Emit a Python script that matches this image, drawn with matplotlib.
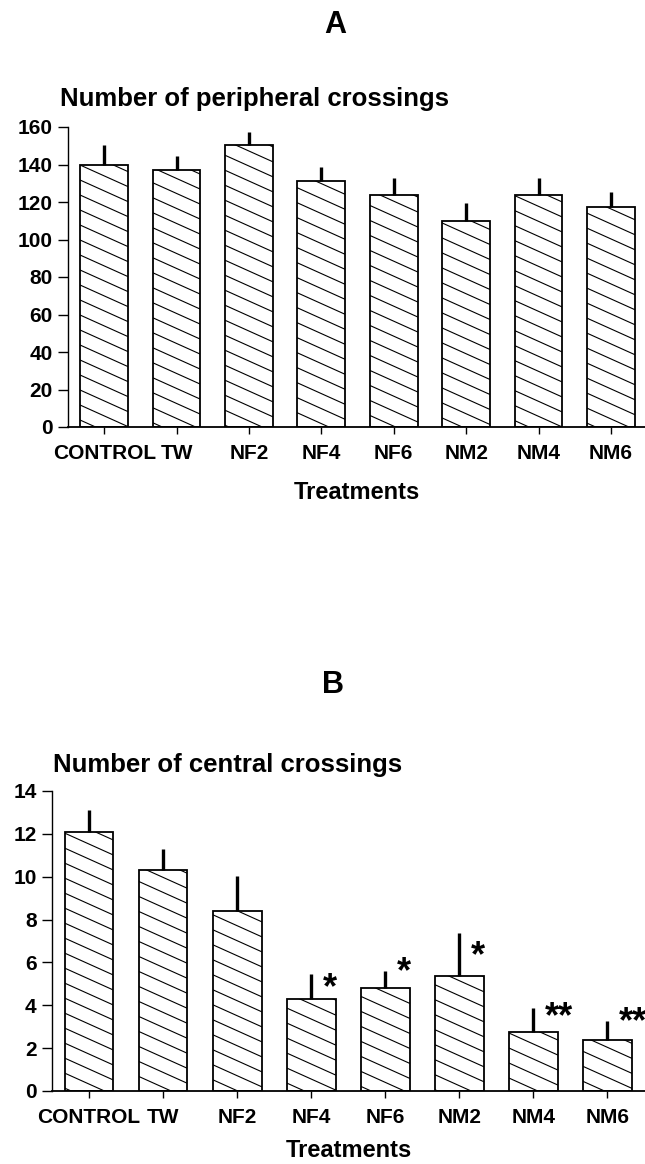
import numpy as np
import matplotlib
matplotlib.use("Agg")
import matplotlib.pyplot as plt
from matplotlib.collections import LineCollection

plt.rcParams['font.family'] = ['Liberation Sans', 'DejaVu Sans']
plt.rcParams['font.weight'] = 'bold'

treatments = ["CONTROL", "TW", "NF2", "NF4", "NF6", "NM2", "NM4", "NM6"]

peripheral_mean = [139.5, 137.0, 150.2, 131.3, 123.5, 109.7, 123.5, 117.3]
peripheral_err = [11.0, 7.6, 7.0, 7.3, 9.5, 9.9, 9.4, 7.8]

central_mean = [12.1, 10.33, 8.4, 4.31, 4.81, 5.38, 2.75, 2.36]
central_err = [1.0, 0.98, 1.62, 1.13, 0.77, 1.99, 1.11, 0.89]
central_stars = ["", "", "", "*", "*", "*", "**", "**"]
# small vertical nudges of the stars relative to the error bar tops
star_dy = [0, 0, 0, -0.15, 0.45, -0.6, 0.05, 0.45]

W_IN, H_IN = 6.45, 11.64


def hatch_bars(ax, bars):
    # sparse, shallow diagonal hatch drawn in inches and clipped to each bar
    fig = ax.figure
    slope = 0.45
    step = 0.15
    segs = []
    for c in np.arange(-0.3, H_IN + slope * W_IN + 0.3, step):
        segs.append([(0, c), (W_IN, c - slope * W_IN)])
    for b in bars:
        lc = LineCollection(segs, colors='black', linewidths=0.8,
                            transform=fig.dpi_scale_trans)
        ax.add_collection(lc, autolim=False)
        lc.set_clip_path(b)


def draw_panel(ax, means, errs, ymax, ystep, xmax, labelpad):
    x = np.arange(len(treatments))
    bars = ax.bar(x, means, width=0.66, color='white', edgecolor='black',
                  linewidth=1.3, zorder=2)
    hatch_bars(ax, bars)
    ax.errorbar(x, means, yerr=[np.zeros(len(errs)), errs], fmt='none',
                ecolor='black', elinewidth=2.4, capsize=0, zorder=3)
    ax.set_xlim(-0.5, xmax)
    ax.set_ylim(0, ymax)
    ax.set_yticks(np.arange(0, ymax + 0.1, ystep))
    ax.set_xticks(x)
    ax.set_xticklabels(treatments, fontsize=15, fontweight='bold')
    for lab in ax.get_yticklabels():
        lab.set_fontsize(15)
        lab.set_fontweight('bold')
    ax.spines['top'].set_visible(False)
    ax.spines['right'].set_visible(False)
    ax.spines['left'].set_linewidth(1.0)
    ax.spines['bottom'].set_linewidth(1.3)
    ax.tick_params(axis='y', length=7, width=1.0, pad=4)
    ax.tick_params(axis='x', length=5, width=1.0, pad=7)
    ax.set_xlabel("Treatments", fontsize=17, fontweight='bold',
                  labelpad=labelpad)
    return x


fig = plt.figure(figsize=(W_IN, H_IN), dpi=100)

axA = fig.add_axes([68 / 645, 1 - 427 / 1164, 1 - 68 / 645, 300 / 1164])
draw_panel(axA, peripheral_mean, peripheral_err, 160, 20, 7.47, 13)

axB = fig.add_axes([52 / 645, 1 - 1091 / 1164, 1 - 52 / 645, 300 / 1164])
xB = draw_panel(axB, central_mean, central_err, 14, 2, 7.51, 9)
for xi, m, e, s, dy in zip(xB, central_mean, central_err, central_stars, star_dy):
    if s:
        axB.text(xi + 0.16, m + e + dy - 0.95, s, fontsize=26,
                 fontweight='bold', ha='left', va='baseline', zorder=4)

fig.text(335 / 645, 1 - 25 / 1164, "A", fontsize=22, fontweight='bold',
         ha='center', va='center')
fig.text(333 / 645, 1 - 685 / 1164, "B", fontsize=22, fontweight='bold',
         ha='center', va='center')
fig.text(60 / 645, 1 - 106 / 1164, "Number of peripheral crossings",
         fontsize=18.5, fontweight='bold', ha='left', va='baseline')
fig.text(53 / 645, 1 - 772 / 1164, "Number of central crossings",
         fontsize=18.5, fontweight='bold', ha='left', va='baseline')

fig.savefig("out.png", dpi=100)
